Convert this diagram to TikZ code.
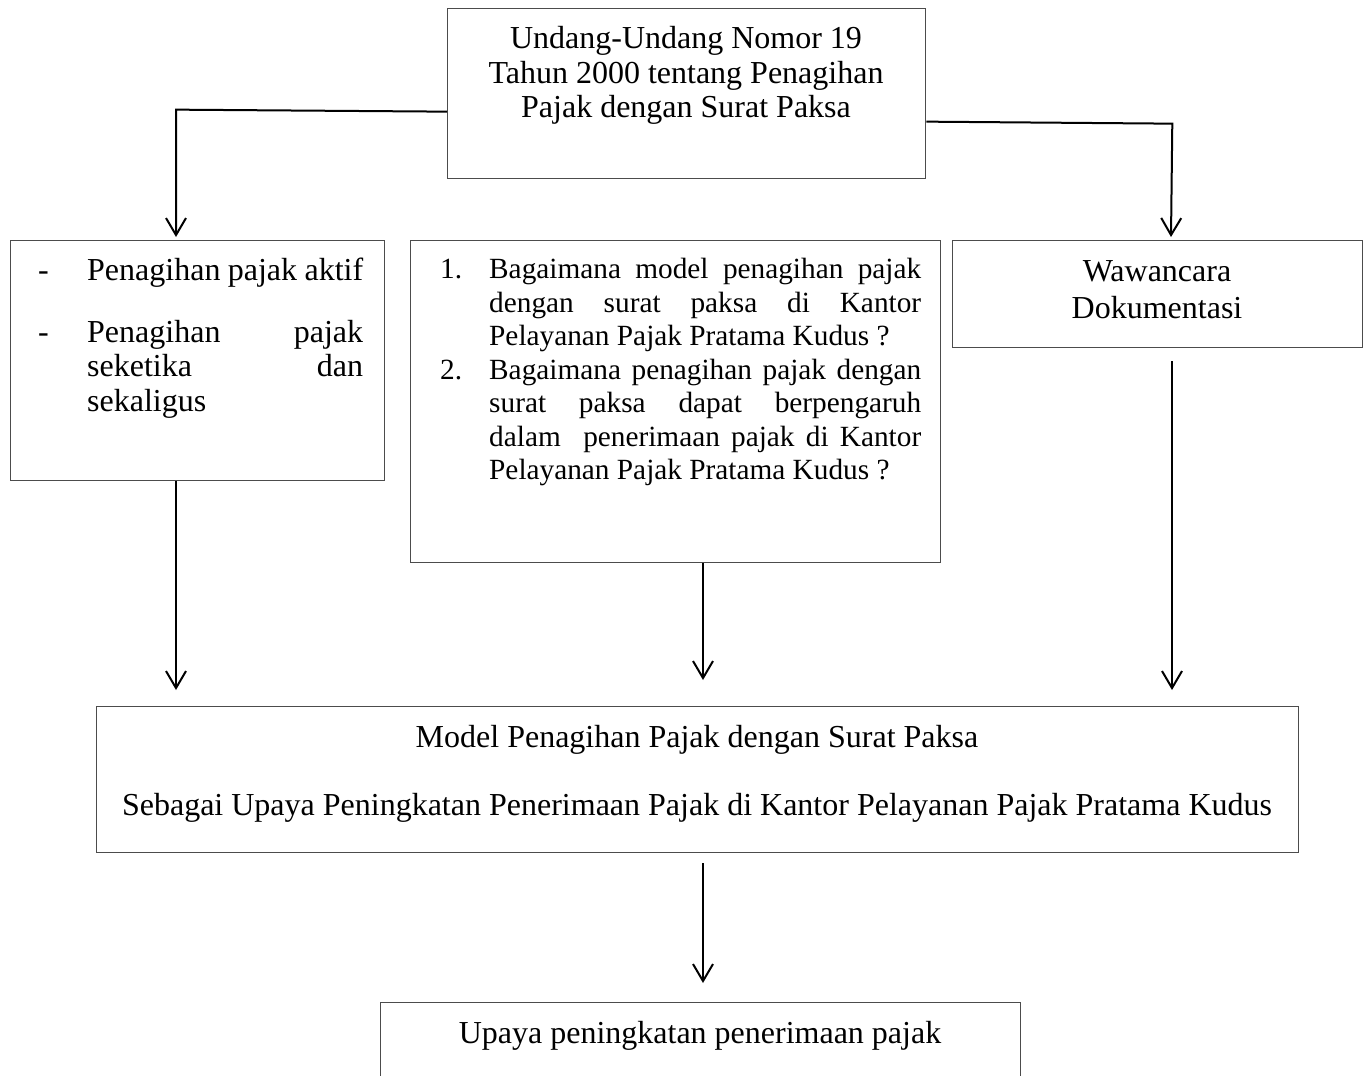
\documentclass[tikz,border=0pt]{standalone}
\usepackage{fontspec}
\setmainfont{Liberation Serif}
\usetikzlibrary{arrows.meta}
\begin{document}
\begin{tikzpicture}[x=1pt,y=-1pt,
  box/.style={draw=black!70, line width=1.3pt, rectangle, inner sep=0pt, anchor=north west},
  arr/.style={line width=2pt, -{Straight Barb[length=17pt,width=20pt,line width=2pt]}},
  txt/.style={font=\fontsize{32}{34}\selectfont, inner sep=0pt, anchor=base},
  ltxt/.style={txt, anchor=base west},
  mtxt/.style={ltxt, font=\fontsize{29.3}{34}\selectfont}]
\path[use as bounding box, clip] (0,0) rectangle (1363,1076);
% boxes
\node[box, minimum width=478pt, minimum height=170pt] (top) at (447,8) {};
\node[box, minimum width=374pt, minimum height=240pt] (left) at (10,240) {};
\node[box, minimum width=530pt, minimum height=322pt] (mid) at (410,240) {};
\node[box, minimum width=410pt, minimum height=107pt] (right) at (952,240) {};
\node[box, minimum width=1202pt, minimum height=146pt] (model) at (96,706) {};
\node[box, minimum width=640pt, minimum height=120pt] (bot) at (380,1002) {};
% top text
\node[txt] (t1) at (686,48) {Undang-Undang Nomor 19};
\node[txt] (t2) at (686,83) {Tahun 2000 tentang Penagihan};
\node[txt] (t3) at (686,117) {Pajak dengan Surat Paksa};
% left text
\node[ltxt] (l1d) at (38,280) {-};
\node[ltxt] (l1) at (87,280) {\makebox[276pt][s]{Penagihan pajak aktif}};
\node[ltxt] (l2d) at (38,342) {-};
\node[ltxt] (l2) at (87,342) {\makebox[276pt][s]{Penagihan pajak}};
\node[ltxt] (l3) at (87,376) {\makebox[276pt][s]{seketika dan}};
\node[ltxt] (l4) at (87,411) {sekaligus};
% middle text
\node[mtxt] (m1n) at (440,278) {1.};
\node[mtxt] (m1) at (489,278) {\makebox[432pt][s]{Bagaimana model penagihan pajak}};
\node[mtxt] (m2) at (489,312) {\makebox[432pt][s]{dengan surat paksa di Kantor}};
\node[mtxt] (m3) at (489,345) {Pelayanan Pajak Pratama Kudus ?};
\node[mtxt] (m4n) at (440,379) {2.};
\node[mtxt] (m4) at (489,379) {\makebox[432pt][s]{Bagaimana penagihan pajak dengan}};
\node[mtxt] (m5) at (489,412) {\makebox[432pt][s]{surat paksa dapat berpengaruh}};
\node[mtxt] (m6) at (489,446) {\makebox[432pt][s]{dalam\ \ penerimaan pajak di Kantor}};
\node[mtxt] (m7) at (489,479) {Pelayanan Pajak Pratama Kudus ?};
% right text
\node[txt] (r1) at (1157,281) {Wawancara};
\node[txt] (r2) at (1157,318) {Dokumentasi};
% model text
\node[txt] (mo1) at (697,747) {Model Penagihan Pajak dengan Surat Paksa};
\node[txt] (mo2) at (697,815) {Sebagai Upaya Peningkatan Penerimaan Pajak di Kantor Pelayanan Pajak Pratama Kudus};
% bottom text
\node[txt] (b1) at (700,1043) {Upaya peningkatan penerimaan pajak};
% connectors
\draw[arr] ([yshift=-18pt]top.west) -- ([yshift=-16pt,xshift=-271pt]top.west) -- ([xshift=166pt,yshift=3pt]left.north west);
\draw[arr] ([yshift=-28pt]top.east) -- ([yshift=-30pt,xshift=246pt]top.east) -- ([xshift=219pt,yshift=3pt]right.north west);
\draw[arr] ([xshift=166pt]left.south west) -- ([xshift=80pt,yshift=16pt]model.north west);
\draw[arr] ([xshift=293pt]mid.south west) -- ([xshift=607pt,yshift=26pt]model.north west);
\draw[arr] ([xshift=220pt,yshift=-13pt]right.south west) -- ([xshift=1076pt,yshift=16pt]model.north west);
\draw[arr] ([xshift=607pt,yshift=-10pt]model.south west) -- ([xshift=323pt,yshift=19pt]bot.north west);
\end{tikzpicture}
\end{document}
